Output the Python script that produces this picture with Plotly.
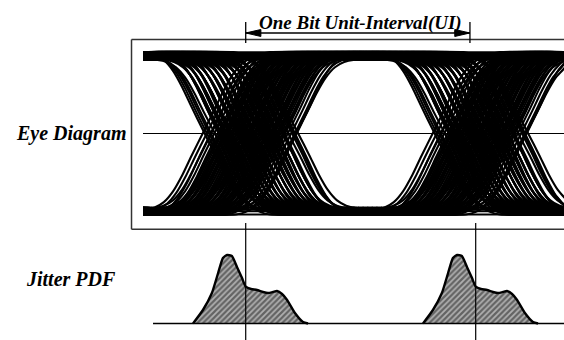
import plotly.graph_objects as go

# ---------------- data ----------------
# time axis is in unit intervals (UI); 0 and 1 are the two ideal edge instants
UI_MARKERS = [0.0, 1.0]
TOP_MARKERS = [0.0, 0.975]

# midline-crossing offsets of the individual edges (UI)
JITTER = [-0.186, -0.172, -0.158, -0.145, -0.133,
          -0.122, -0.117, -0.112, -0.107, -0.102, -0.097, -0.092, -0.087, -0.082,
          -0.077, -0.072, -0.067, -0.062, -0.057, -0.052, -0.047, -0.042, -0.037,
          -0.032, -0.027, -0.022, -0.017, -0.012, -0.007, -0.002, 0.003, 0.008,
          0.013, 0.018, 0.023, 0.028, 0.033, 0.038, 0.043, 0.048, 0.053, 0.058,
          0.063, 0.068, 0.073, 0.078, 0.083, 0.088, 0.093, 0.098, 0.103, 0.108,
          0.113, 0.118, 0.123, 0.128, 0.133, 0.138, 0.143, 0.148, 0.153, 0.158,
          0.163, 0.175, 0.186, 0.197, 0.208, 0.218, 0.227]

# shape of one (falling) transition: offset from crossing (UI) vs normalised level
EDGE_U = [-0.50, -0.25, -0.21, -0.17, -0.13, -0.09, -0.05, 0.0,
          0.05, 0.09, 0.13, 0.17, 0.21, 0.25, 0.50]
EDGE_S = [1.0, 1.0, 0.97, 0.90, 0.76, 0.55, 0.30, 0.0,
          -0.30, -0.55, -0.76, -0.90, -0.97, -1.0, -1.0]

# settled logic levels (normalised amplitude)
TOP_LEVELS = [1.05, 1.025, 1.0, 0.975, 0.95]
BOT_LEVELS = [-0.96, -0.985, -1.005, -1.045]

# jitter probability density (offset from edge in UI, relative density)
PDF_T = [-0.229, -0.186, -0.147, -0.120, -0.099, -0.081, -0.060, -0.038, -0.016,
         0.0, 0.023, 0.049, 0.075, 0.097, 0.119, 0.136, 0.158, 0.180, 0.214,
         0.249, 0.271]
PDF_P = [0.0, 0.197, 0.445, 0.737, 0.956, 1.0, 0.985, 0.825, 0.664,
         0.537, 0.504, 0.489, 0.460, 0.445, 0.460, 0.474, 0.431, 0.343, 0.153,
         0.022, 0.0]

# ---------------- layout constants ----------------
X_RANGE = [-1.0683, 1.3839]
Y_RANGE = [-2.6645, 1.7226]
PDF_BASE, PDF_SCALE = -2.4516, 0.8839     # where the PDF panel sits on the y axis

T_START = -0.4465      # where the traces begin
T_END = X_RANGE[1] + 0.01
BOX_T0 = -0.4965
BOX_TOP, BOX_BOT = 1.213, -1.236
PDF_AXIS_T0 = -0.403

FONT = "Liberation Serif"


def clip(t):
    return min(max(t, T_START), T_END)


# ---------------- build eye traces ----------------
ex, ey = [], []
for c0 in UI_MARKERS:
    for i, j in enumerate(JITTER):
        c = c0 + j
        # falling edge
        hi = TOP_LEVELS[i % len(TOP_LEVELS)]
        lo = BOT_LEVELS[i % len(BOT_LEVELS)]
        for u, s in zip(EDGE_U, EDGE_S):
            ex.append(clip(c + u))
            ey.append(lo + (hi - lo) * (s + 1) / 2)
        ex.append(None); ey.append(None)
        # rising edge
        hi = TOP_LEVELS[(i + 2) % len(TOP_LEVELS)]
        lo = BOT_LEVELS[(i + 1) % len(BOT_LEVELS)]
        for u, s in zip(EDGE_U, EDGE_S):
            ex.append(clip(c + u))
            ey.append(lo + (hi - lo) * (1 - s) / 2)
        ex.append(None); ey.append(None)

rx, ry = [], []
for lv in TOP_LEVELS + BOT_LEVELS:
    rx += [T_START, T_END, None]
    ry += [lv, lv, None]

fig = go.Figure()
fig.add_trace(go.Scatter(x=[T_START, T_END], y=[0, 0], mode="lines",
                         line=dict(color="black", width=1.2), hoverinfo="skip"))
fig.add_trace(go.Scatter(x=ex, y=ey, mode="lines",
                         line=dict(color="black", width=2.1, shape="spline", smoothing=0.6),
                         connectgaps=False, hoverinfo="skip"))
fig.add_trace(go.Scatter(x=rx, y=ry, mode="lines",
                         line=dict(color="black", width=1.9),
                         connectgaps=False, hoverinfo="skip"))

# ---------------- jitter PDFs ----------------
for c0 in UI_MARKERS:
    fig.add_trace(go.Scatter(
        x=[c0 + t for t in PDF_T], y=[PDF_BASE + PDF_SCALE * p for p in PDF_P], mode="lines",
        line=dict(color="black", width=2.4, shape="spline", smoothing=0.5),
        fill="toself", fillcolor="#a0a0a0",
        fillpattern=dict(shape="/", size=4, solidity=0.55, fgcolor="#151515", bgcolor="#b0b0b0"),
        hoverinfo="skip"))
fig.add_trace(go.Scatter(x=[PDF_AXIS_T0, T_END], y=[PDF_BASE, PDF_BASE], mode="lines",
                         line=dict(color="black", width=1.3), hoverinfo="skip"))

shapes = []
# frame round the eye diagram (left, top and bottom sides; it runs off the right edge)
frame = dict(color="#333333", width=1.5)
shapes.append(dict(type="line", xref="x", yref="y", x0=BOX_T0, x1=BOX_T0, y0=BOX_BOT, y1=BOX_TOP, line=frame))
shapes.append(dict(type="line", xref="x", yref="y", x0=BOX_T0, x1=T_END, y0=BOX_TOP, y1=BOX_TOP, line=frame))
shapes.append(dict(type="line", xref="x", yref="y", x0=BOX_T0, x1=T_END, y0=BOX_BOT, y1=BOX_BOT, line=frame))
# vertical lines at the ideal edges through the PDFs
for m in UI_MARKERS:
    shapes.append(dict(type="line", xref="x", yref="y", x0=m, x1=m, y0=-1.155, y1=Y_RANGE[0],
                       line=dict(color="black", width=1.2)))
# UI dimension markers
for m in TOP_MARKERS:
    shapes.append(dict(type="line", xref="x", yref="y", x0=m, x1=m, y0=1.168, y1=1.439,
                       line=dict(color="black", width=1.3)))
ARROW_Y = 1.297
shapes.append(dict(type="line", xref="x", yref="y", x0=TOP_MARKERS[0], x1=TOP_MARKERS[1],
                   y0=ARROW_Y, y1=ARROW_Y, line=dict(color="black", width=1.5)))
HL, HH = 0.066, 0.045
a0, a1 = TOP_MARKERS
shapes.append(dict(type="path", xref="x", yref="y",
                   path=f"M {a0},{ARROW_Y} L {a0+HL},{ARROW_Y+HH} L {a0+HL},{ARROW_Y-HH} Z",
                   fillcolor="black", line=dict(color="black", width=1)))
shapes.append(dict(type="path", xref="x", yref="y",
                   path=f"M {a1},{ARROW_Y} L {a1-HL},{ARROW_Y+HH} L {a1-HL},{ARROW_Y-HH} Z",
                   fillcolor="black", line=dict(color="black", width=1)))

ann_font = dict(family=FONT, size=20, color="black", weight="bold", style="italic")
annotations = [
    dict(x=0.5, y=1.426, xref="x", yref="y", text="One Bit Unit-Interval(UI)", showarrow=False,
         xanchor="center", yanchor="middle",
         font=dict(family=FONT, size=19, color="black", weight="bold", style="italic")),
    dict(x=-1.007, y=0.0, xref="x", yref="y", text="Eye Diagram", showarrow=False,
         xanchor="left", yanchor="middle", font=ann_font),
    dict(x=-0.963, y=PDF_BASE + PDF_SCALE * 0.65, xref="x", yref="y", text="Jitter PDF",
         showarrow=False, xanchor="left", yanchor="middle", font=ann_font),
]

fig.update_layout(
    width=564, height=340, autosize=False,
    margin=dict(l=0, r=0, t=0, b=0, pad=0),
    paper_bgcolor="white", plot_bgcolor="white",
    showlegend=False,
    xaxis=dict(range=X_RANGE, visible=False, fixedrange=True),
    yaxis=dict(range=Y_RANGE, visible=False, fixedrange=True),
    shapes=shapes, annotations=annotations,
)

fig.write_html("out.html", config={"displayModeBar": False},
               post_script=("document.documentElement.style.margin='0';"
                            "document.documentElement.style.overflow='hidden';"
                            "document.body.style.margin='0';"
                            "document.body.style.overflow='hidden';"))
